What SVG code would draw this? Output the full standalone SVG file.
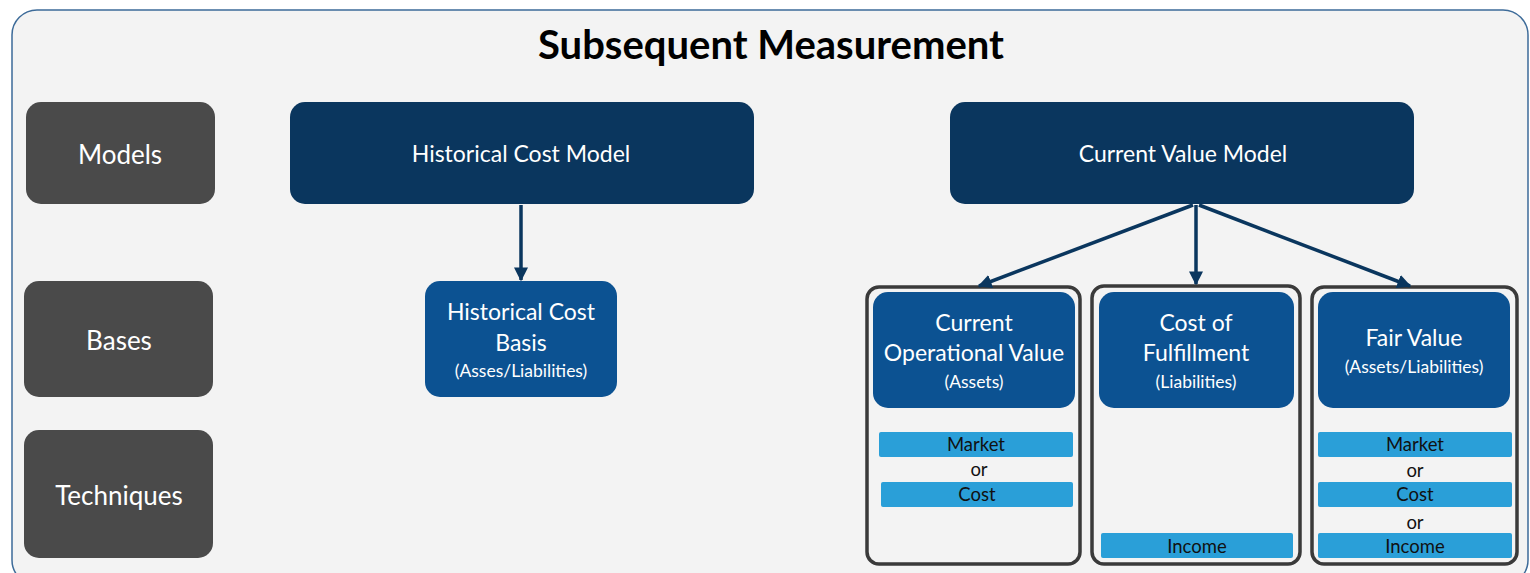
<svg xmlns="http://www.w3.org/2000/svg" width="1530" height="573" viewBox="0 0 1530 573">
<defs>
<style>
text{font-family:Lato,"Open Sans","Liberation Sans",sans-serif;text-anchor:middle}
.cat{fill:#4a4a4a}
.model{fill:#0a365e}
.basis{fill:#0c5292}
.tech{fill:#2a9fd8}
.frame{fill:none;stroke:#3a3a3a;stroke-width:3.5}
.wt{fill:#ffffff}
.big{font-size:26px}
.mid{font-size:23px}
.sm{font-size:17.5px}
.bt{font-size:18.5px;fill:#111}
.conn{stroke:#0a365e;stroke-width:3.5;fill:none}
</style>
<marker id="ah" viewBox="0 0 10 10" refX="9" refY="5" markerWidth="4" markerHeight="4" orient="auto" markerUnits="strokeWidth">
<path d="M0,0 L10,5 L0,10 z" fill="#0a365e"/>
</marker>
</defs>
<rect x="0" y="0" width="1530" height="573" fill="#ffffff"/>
<rect x="12" y="10" width="1516" height="575" rx="25" ry="25" fill="#f3f3f3" stroke="#3d6b99" stroke-width="1.5"/>
<text x="771" y="59" style="font-size:40px;font-weight:bold" fill="#000">Subsequent Measurement</text>

<g id="models"><rect class="cat" x="26" y="102" width="189" height="102" rx="15"/><text class="wt big" x="120" y="164">Models</text></g>
<g id="bases"><rect class="cat" x="24" y="281" width="189" height="116" rx="15"/><text class="wt big" x="119" y="350">Bases</text></g>
<g id="techniques"><rect class="cat" x="24" y="430" width="189" height="128" rx="15"/><text class="wt big" x="119" y="505">Techniques</text></g>

<g id="hcm"><rect class="model" x="290" y="102" width="464" height="102" rx="15"/><text class="wt mid" x="521" y="162">Historical Cost Model</text></g>
<g id="cvm"><rect class="model" x="950" y="102" width="464" height="102" rx="15"/><text class="wt mid" x="1183" y="162">Current Value Model</text></g>

<g id="hcb"><rect class="basis" x="425" y="281" width="192" height="116" rx="15"/>
<text class="wt mid" x="521" y="320">Historical Cost</text>
<text class="wt mid" x="521" y="351">Basis</text>
<text class="wt sm" x="521" y="377">(Asses/Liabilities)</text></g>

<g id="cov">
<rect class="frame" x="867" y="287" width="213" height="277" rx="12"/>
<rect class="basis" x="873" y="292" width="202" height="116" rx="15"/>
<text class="wt mid" x="974" y="331">Current</text>
<text class="wt mid" x="974" y="361">Operational Value</text>
<text class="wt sm" x="974" y="388">(Assets)</text>
<rect class="tech" x="879" y="432" width="194" height="25" rx="2"/>
<text class="bt" x="976" y="451">Market</text>
<text class="bt" x="979" y="476">or</text>
<rect class="tech" x="881" y="482" width="192" height="25" rx="2"/>
<text class="bt" x="977" y="501">Cost</text>
</g>

<g id="cof">
<rect class="frame" x="1092" y="286" width="208" height="278" rx="12"/>
<rect class="basis" x="1099" y="292" width="195" height="116" rx="15"/>
<text class="wt mid" x="1196" y="331">Cost of</text>
<text class="wt mid" x="1196" y="361">Fulfillment</text>
<text class="wt sm" x="1196" y="388">(Liabilities)</text>
<rect class="tech" x="1101" y="533" width="192" height="25" rx="2"/>
<text class="bt" x="1197" y="553">Income</text>
</g>

<g id="fv">
<rect class="frame" x="1312" y="287" width="205" height="277" rx="12"/>
<rect class="basis" x="1318" y="292" width="192" height="116" rx="15"/>
<text class="wt mid" x="1414" y="346">Fair Value</text>
<text class="wt sm" x="1414" y="373">(Assets/Liabilities)</text>
<rect class="tech" x="1318" y="432" width="194" height="25" rx="2"/>
<text class="bt" x="1415" y="451">Market</text>
<text class="bt" x="1415" y="477">or</text>
<rect class="tech" x="1318" y="482" width="194" height="25" rx="2"/>
<text class="bt" x="1415" y="501">Cost</text>
<text class="bt" x="1415" y="529">or</text>
<rect class="tech" x="1318" y="533" width="194" height="25" rx="2"/>
<text class="bt" x="1415" y="553">Income</text>
</g>

<g id="connectors">
<line class="conn" x1="521" y1="205" x2="521" y2="280" marker-end="url(#ah)"/>
<line class="conn" x1="1193" y1="205" x2="979" y2="286" marker-end="url(#ah)"/>
<line class="conn" x1="1196" y1="205" x2="1196" y2="284" marker-end="url(#ah)"/>
<line class="conn" x1="1199" y1="205" x2="1410" y2="286" marker-end="url(#ah)"/>
</g>
</svg>
